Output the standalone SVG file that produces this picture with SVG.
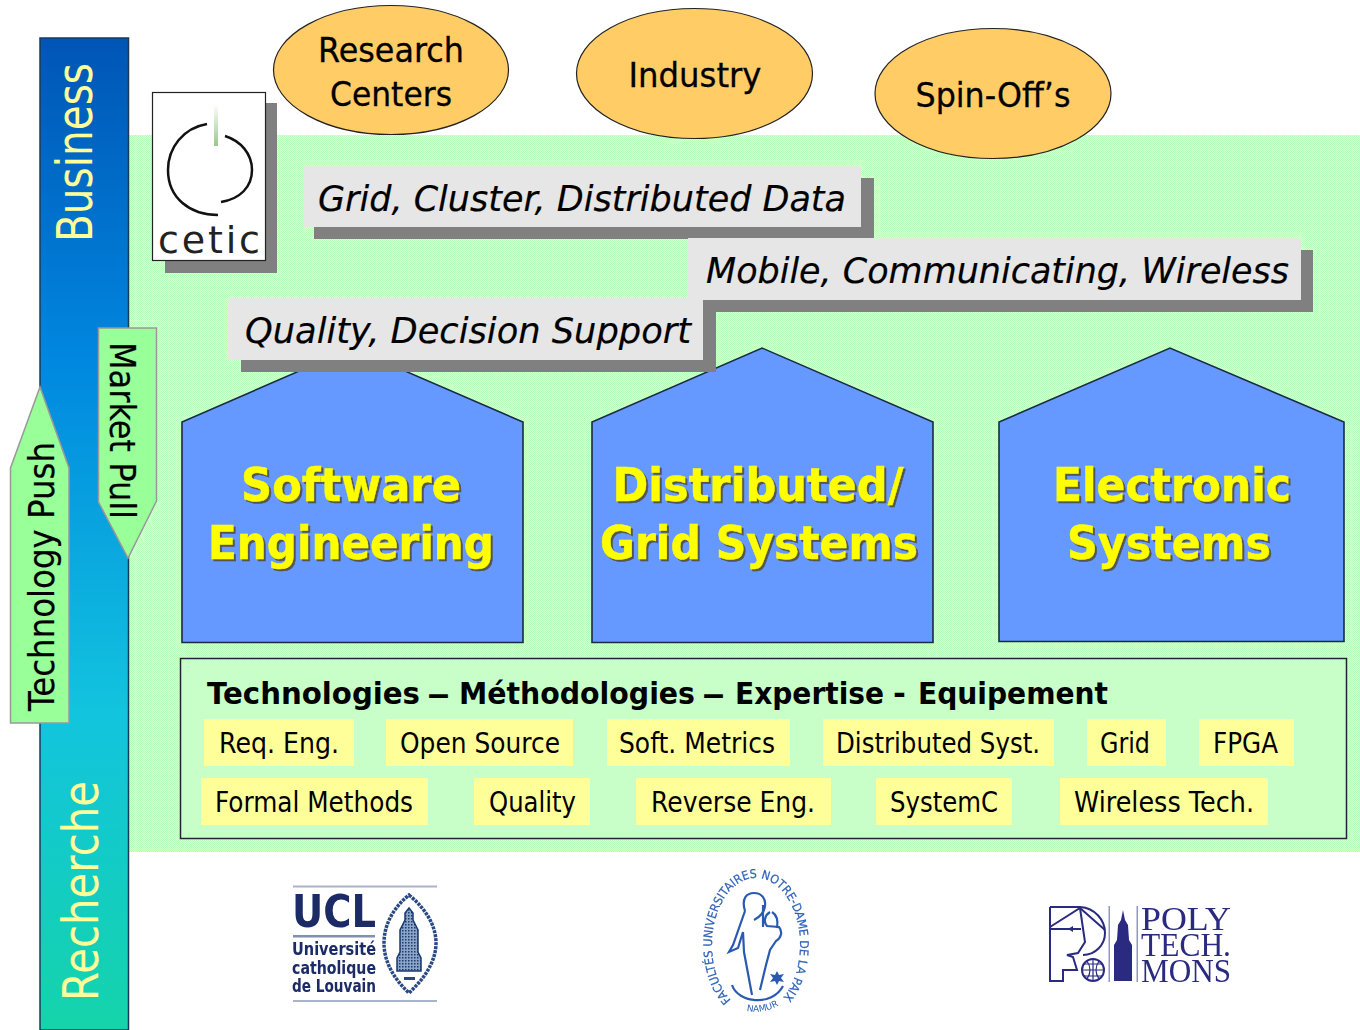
<svg xmlns="http://www.w3.org/2000/svg" width="1360" height="1030" viewBox="0 0 1360 1030">
<style>
text{font-family:"DejaVu Sans","Noto Sans",sans-serif;fill:#000}
.el{fill:#FFCC66;stroke:#222;stroke-width:1.2}
.et{font-size:34px;text-anchor:middle;stroke:#000;stroke-width:.3}
.band{fill:#e6e6e6}.sh{fill:#808080}
.bt{font-size:36px;font-style:italic;stroke:#000;stroke-width:.2}
.house{fill:#6699FF;stroke:#1a2a44;stroke-width:1.6}
.ht{font-size:46px;font-weight:bold;text-anchor:middle;fill:#FFFF00;stroke:#FFFF00;stroke-width:.5;filter:drop-shadow(2.500px 2.500px 0 #555)}
.chip{fill:#FFFF99}
.ct{font-size:28px}
.arr{fill:#99FF99;stroke:#999;stroke-width:1.5}
.at{font-size:36px;stroke:#000;stroke-width:.2}
.ucl{fill:#1a2a66;font-weight:bold}
.pm{fill:#2a2a80;font-family:"Liberation Serif",serif;font-size:34px}
</style>
<defs>
<linearGradient id="vg" x1="0" y1="0" x2="0" y2="1">
<stop offset="0" stop-color="#0055B5"/><stop offset=".33" stop-color="#0088E0"/><stop offset=".68" stop-color="#12C4DE"/><stop offset="1" stop-color="#14D4AA"/>
</linearGradient>
<linearGradient id="stem" x1="0" y1="0" x2="0" y2="1">
<stop offset="0" stop-color="#fff"/><stop offset="1" stop-color="#98C888"/>
</linearGradient>
<pattern id="dith" width="2" height="2" patternUnits="userSpaceOnUse">
<rect width="2" height="2" fill="#DCFFDC"/><rect width="1" height="1" fill="#B8FFB8"/><rect x="1" y="1" width="1" height="1" fill="#B8FFB8"/>
</pattern>
<pattern id="stone" width="3" height="3" patternUnits="userSpaceOnUse">
<rect width="3" height="3" fill="#8CA4C8"/><rect width="1.500" height="1.500" fill="#1a3a70"/>
</pattern>
<filter id="soft" x="-5%" y="-5%" width="110%" height="110%"><feGaussianBlur stdDeviation=".6"/></filter>
</defs>
<rect width="1360" height="1030" fill="#fff"/>
<rect id="backdrop" x="129" y="135" width="1231" height="717" fill="url(#dith)"/>

<g id="axis">
<rect x="40" y="38" width="88.500" height="992" fill="url(#vg)" stroke="#1a3a5a" stroke-width="1.500"/>
<text transform="translate(92,242) rotate(-90)" font-size="50" style="fill:#FFFF99" textLength="179" lengthAdjust="spacingAndGlyphs">Business</text>
<text transform="translate(98,1001) rotate(-90)" font-size="50" style="fill:#FFFF99" textLength="220" lengthAdjust="spacingAndGlyphs">Recherche</text>
</g>

<g id="research-centers"><ellipse class="el" cx="391" cy="70" rx="117.500" ry="64.500"/>
<text class="et" x="391" y="62" textLength="146" lengthAdjust="spacingAndGlyphs">Research</text>
<text class="et" x="391" y="106" textLength="122" lengthAdjust="spacingAndGlyphs">Centers</text></g>
<g id="industry"><ellipse class="el" cx="694.500" cy="73.500" rx="118" ry="65"/>
<text class="et" x="695" y="87" textLength="133" lengthAdjust="spacingAndGlyphs">Industry</text></g>
<g id="spin-offs"><ellipse class="el" cx="993" cy="93.500" rx="118" ry="65"/>
<text class="et" x="993" y="107" textLength="155" lengthAdjust="spacingAndGlyphs">Spin-Off’s</text></g>

<g id="cetic-logo">
<rect x="165" y="103" width="112" height="170" fill="#808080"/>
<rect x="152.500" y="92.500" width="113" height="168" fill="#fff" stroke="#222" stroke-width="1.200"/>
<rect x="214" y="104" width="4" height="42" fill="url(#stem)"/>
<path d="M207 124C183 128 168 148 168 170C168 198 190 215 218 215" fill="none" stroke="#111" stroke-width="2.500"/>
<path d="M225 136C241 141 252 154 252 170C252 187 240 199 221 202" fill="none" stroke="#111" stroke-width="2.500"/>
<text x="158" y="253" font-size="38" textLength="102" lengthAdjust="spacing" style="fill:#222">cetic</text>
</g>

<g id="band-grid">
<rect class="sh" x="314" y="178" width="560" height="61"/>
<rect class="band" x="303" y="166" width="558" height="61"/>
<text class="bt" x="318" y="211" textLength="528" lengthAdjust="spacingAndGlyphs">Grid, Cluster, Distributed Data</text>
</g>
<g id="band-mobile">
<rect class="sh" x="700" y="250" width="613" height="62"/>
<rect class="band" x="688" y="238" width="613" height="62"/>
<text class="bt" x="706" y="283" textLength="583" lengthAdjust="spacingAndGlyphs">Mobile, Communicating, Wireless</text>
</g>

<g id="software-engineering">
<path class="house" d="M182 642.500H523V422L352 348 182 422Z"/>
<text class="ht" x="351" y="501" textLength="220" lengthAdjust="spacingAndGlyphs">Software</text>
<text class="ht" x="351" y="559" textLength="286" lengthAdjust="spacingAndGlyphs">Engineering</text>
</g>
<g id="distributed-grid">
<path class="house" d="M592 642.500H933V422L762 348 592 422Z"/>
<text class="ht" x="758" y="501" textLength="291" lengthAdjust="spacingAndGlyphs">Distributed/</text>
<text class="ht" x="759" y="559" textLength="318" lengthAdjust="spacingAndGlyphs">Grid Systems</text>
</g>
<g id="electronic-systems">
<path class="house" d="M999 641.500H1344V422L1170 348 999 422Z"/>
<text class="ht" x="1172" y="501" textLength="238" lengthAdjust="spacingAndGlyphs">Electronic</text>
<text class="ht" x="1169" y="559" textLength="204" lengthAdjust="spacingAndGlyphs">Systems</text>
</g>

<g id="band-quality">
<rect class="sh" x="241" y="310" width="475" height="62"/>
<rect class="band" x="228" y="298" width="475" height="62"/>
<text class="bt" x="245" y="343" textLength="446" lengthAdjust="spacingAndGlyphs">Quality, Decision Support</text>
</g>

<g id="technologies">
<rect x="180.500" y="658.500" width="1166" height="180" fill="#C8FFC8" stroke="#223" stroke-width="1.500"/>
<text y="704" font-size="31" font-weight="bold" lengthAdjust="spacingAndGlyphs"><tspan x="207" textLength="213" lengthAdjust="spacingAndGlyphs">Technologies</tspan> <tspan x="428" textLength="21" lengthAdjust="spacingAndGlyphs">—</tspan> <tspan x="459" textLength="236" lengthAdjust="spacingAndGlyphs">Méthodologies</tspan> <tspan x="703" textLength="21" lengthAdjust="spacingAndGlyphs">—</tspan> <tspan x="735" textLength="149" lengthAdjust="spacingAndGlyphs">Expertise</tspan> <tspan x="893">-</tspan> <tspan x="918" textLength="190" lengthAdjust="spacingAndGlyphs">Equipement</tspan></text>
<g id="chips">
<rect class="chip" x="204" y="719" width="150" height="47"/><text class="ct" x="219" y="753" textLength="120" lengthAdjust="spacingAndGlyphs">Req. Eng.</text>
<rect class="chip" x="386" y="719" width="187" height="47"/><text class="ct" x="400" y="753" textLength="160" lengthAdjust="spacingAndGlyphs">Open Source</text>
<rect class="chip" x="607" y="719" width="183" height="47"/><text class="ct" x="619" y="753" textLength="156" lengthAdjust="spacingAndGlyphs">Soft. Metrics</text>
<rect class="chip" x="823" y="719" width="231" height="47"/><text class="ct" x="836" y="753" textLength="204" lengthAdjust="spacingAndGlyphs">Distributed Syst.</text>
<rect class="chip" x="1087" y="719" width="79" height="47"/><text class="ct" x="1100" y="753" textLength="50" lengthAdjust="spacingAndGlyphs">Grid</text>
<rect class="chip" x="1199" y="719" width="95" height="47"/><text class="ct" x="1213" y="753" textLength="65" lengthAdjust="spacingAndGlyphs">FPGA</text>
<rect class="chip" x="201" y="778" width="227" height="47"/><text class="ct" x="215" y="812" textLength="198" lengthAdjust="spacingAndGlyphs">Formal Methods</text>
<rect class="chip" x="474" y="778" width="116" height="47"/><text class="ct" x="489" y="812" textLength="87" lengthAdjust="spacingAndGlyphs">Quality</text>
<rect class="chip" x="636" y="778" width="195" height="47"/><text class="ct" x="651" y="812" textLength="164" lengthAdjust="spacingAndGlyphs">Reverse Eng.</text>
<rect class="chip" x="876" y="778" width="136" height="47"/><text class="ct" x="890" y="812" textLength="108" lengthAdjust="spacingAndGlyphs">SystemC</text>
<rect class="chip" x="1060" y="778" width="208" height="47"/><text class="ct" x="1074" y="812" textLength="180" lengthAdjust="spacingAndGlyphs">Wireless Tech.</text>
</g>
</g>

<g id="technology-push">
<path class="arr" d="M10.500 723V468L40 387 69 468V723Z"/>
<text class="at" transform="translate(54,711) rotate(-90)" textLength="269" lengthAdjust="spacingAndGlyphs">Technology Push</text>
</g>
<g id="market-pull">
<path class="arr" d="M98.500 328H156.500V501L128 558 98.500 502Z"/>
<text class="at" transform="translate(110,342) rotate(90)" textLength="177" lengthAdjust="spacingAndGlyphs">Market Pull</text>
</g>

<g id="ucl-logo" filter="url(#soft)">
<rect x="293" y="885.500" width="144" height="2" fill="#A8B4CC"/>
<rect x="293" y="1000" width="144" height="2" fill="#A8B4CC"/>
<rect x="293" y="935" width="82" height="2.500" fill="#8090B0"/>
<text class="ucl" x="292" y="927" font-size="44" textLength="84" lengthAdjust="spacingAndGlyphs">UCL</text>
<text class="ucl" x="292" y="955" font-size="17" textLength="84" lengthAdjust="spacingAndGlyphs">Université</text>
<text class="ucl" x="292" y="974" font-size="17" textLength="84" lengthAdjust="spacingAndGlyphs">catholique</text>
<text class="ucl" x="292" y="992" font-size="17" textLength="84" lengthAdjust="spacingAndGlyphs">de Louvain</text>
<path d="M409 895C425 908 436 925 436 943S425 978 409 993C393 978 384 961 384 943S393 908 409 895Z" fill="#fff" stroke="#2a4a80" stroke-width="3.500" stroke-dasharray="3 1"/>
<path d="M409 908l4 5v7l5 10v22l3 6v13h-24v-13l3-6v-22l5-10v-7Z" fill="url(#stone)" stroke="#1a3a70" stroke-width="1.500"/>
<rect x="404" y="977" width="11" height="3" fill="#2a4a80"/>
</g>

<g id="fundp-logo" filter="url(#soft)">
<path id="fundp-arc" d="M731 1000A44 67 0 1 1 781 1000" fill="none"/>
<text font-size="12" style="fill:#2f62b8;stroke:#2f62b8;stroke-width:.2"><textPath href="#fundp-arc" textLength="292" lengthAdjust="spacingAndGlyphs">FACULTÉS UNIVERSITAIRES NOTRE-DAME DE LA PAIX</textPath></text>
<path id="namur-arc" d="M735 1007Q757 1017 778 1006" fill="none"/>
<text font-size="9" style="fill:#2f62b8"><textPath href="#namur-arc" startOffset="12">NAMUR</textPath></text>
<g fill="none" stroke="#2a5ab0" stroke-width="2.200">
<path d="M745 911C741 898 747 893 754 893C762 893 766 899 765 906C764 914 758 918 754 920"/>
<path d="M745 911L733 945 729 952 738 948 743 932 744 952 752 995"/>
<path d="M763 905V927"/>
<path d="M770 912C765 915 763 922 767 926L779 927C783 932 781 938 776 941L770 950 766 965 760 990"/>
<path d="M772 912C777 915 778 922 777 928"/>
<path d="M732 985C738 1003 772 1007 783 986"/>
</g>
<path d="M777 971l2 4 5-1-3 4 3 4-5-1-2 4-2-4-5 1 3-4-3-4 5 1Z" fill="#2a5ab0"/>
</g>

<g id="polytech-logo" filter="url(#soft)">
<g fill="none" stroke="#2a2a80" stroke-width="2">
<path d="M1050 907H1080C1095 908 1105 920 1105 933C1105 945 1095 955 1083 955"/>
<path d="M1050 907V981H1063V970H1077L1073 957 1067 955 1078 953 1085 942 1080 908"/>
<path d="M1050 927L1080 908 1105 930M1050 929H1081"/>
</g>
<path d="M1068 929l5-3v6Z" fill="#2a2a80"/>
<circle cx="1093" cy="970" r="11" fill="none" stroke="#2a2a80" stroke-width="2"/>
<path d="M1093 959V981M1082 970H1104M1087 961Q1093 970 1087 979M1099 961Q1093 970 1099 979M1084 964H1102M1084 976H1102" fill="none" stroke="#2a2a80" stroke-width="1.200"/>
<rect x="1108.500" y="906" width="1.500" height="76" fill="#9098C0"/>
<rect x="1136.500" y="906" width="1.500" height="76" fill="#9098C0"/>
<path d="M1123 910L1125 920 1128 925 1129 940 1132 945V981H1114V945L1117 940 1118 925 1121 920Z" fill="#2a2a80"/>
<text class="pm" x="1141" y="930" textLength="90" lengthAdjust="spacingAndGlyphs">POLY</text>
<text class="pm" x="1141" y="956" textLength="90" lengthAdjust="spacingAndGlyphs">TECH.</text>
<text class="pm" x="1141" y="982" textLength="90" lengthAdjust="spacingAndGlyphs">MONS</text>
</g>
</svg>
